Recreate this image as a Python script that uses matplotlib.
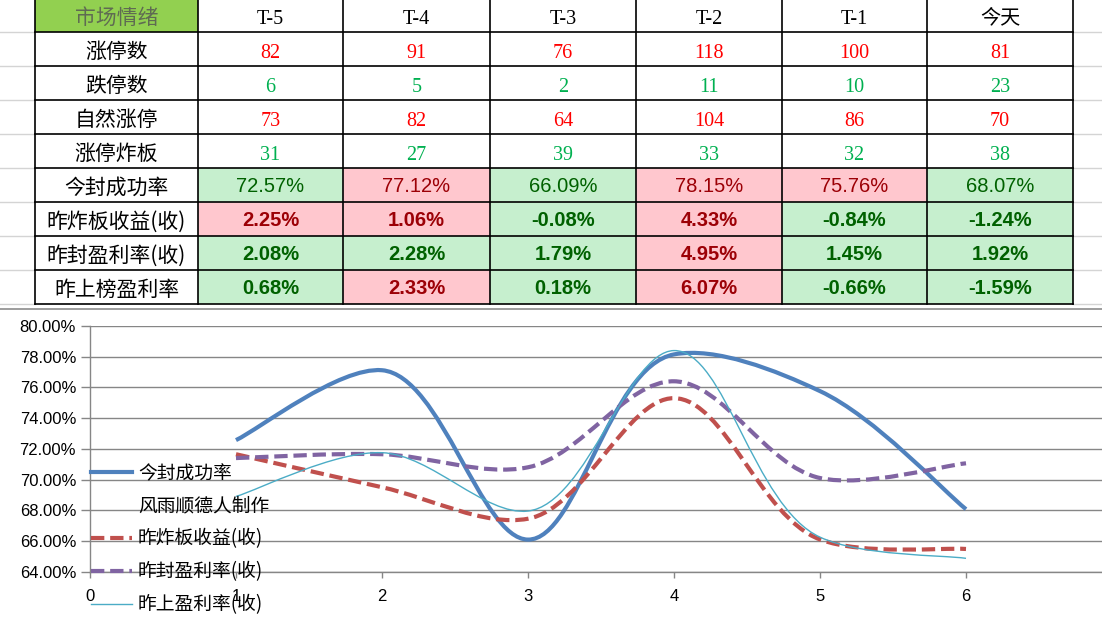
# -*- coding: utf-8 -*-
"""
Market mood table (spreadsheet style) with a smoothed line chart below
"""

import matplotlib
matplotlib.use("Agg")
import matplotlib.pyplot as plt
from math import hypot
from matplotlib.path import Path
from matplotlib.patches import PathPatch, Rectangle
from matplotlib.lines import Line2D
from matplotlib.ticker import FuncFormatter

plt.rcParams['font.family'] = ['Noto Sans CJK SC', 'DejaVu Sans']

#_____________________________________________________
#DATA

corner_label = '市场情绪'
col_heads = ['T-5', 'T-4', 'T-3', 'T-2', 'T-1', '今天']
row_names = ['涨停数', '跌停数', '自然涨停', '涨停炸板',
             '今封成功率', '昨炸板收益(收)', '昨封盈利率(收)', '昨上榜盈利率']

zt_count = [82, 91, 76, 118, 100, 81]
dt_count = [6, 5, 2, 11, 10, 23]
natural_zt = [73, 82, 64, 104, 86, 70]
zt_broken = [31, 27, 39, 33, 32, 38]

seal_rate = [72.57, 77.12, 66.09, 78.15, 75.76, 68.07]
broken_ret = [2.25, 1.06, -0.08, 4.33, -0.84, -1.24]
seal_ret = [2.08, 2.28, 1.79, 4.95, 1.45, 1.92]
board_ret = [0.68, 2.33, 0.18, 6.07, -0.66, -1.59]
# conditional formatting thresholds (above -> red cell, else green cell)
pct_thresholds = [75, 0, 3, 2]

# chart series
days = [1, 2, 3, 4, 5, 6]
chart_seal = [72.57, 77.12, 66.09, 78.15, 75.76, 68.07]
chart_broken = [71.65, 69.5, 67.45, 75.3, 66.1, 65.48]
chart_sealret = [71.4, 71.65, 70.8, 76.4, 70.1, 71.06]
chart_board = [68.9, 71.75, 67.95, 78.4, 66.25, 64.87]
legend_labels = ['今封成功率', '风雨顺德人制作', '昨炸板收益(收)', '昨封盈利率(收)', '昨上盈利率(收)']

#_____________________________________________________
#HELPERS

def smooth_path(xs, ys, sx, sy):
    """
    Excel-like smoothed line: cubic bezier segments whose control points come from a
    chord-length Catmull-Rom spline computed in screen space (sx, sy = pixels per unit).
    """
    px = [x * sx for x in xs]
    py = [y * sy for y in ys]
    n = len(px)

    def tangent(i):
        if i == 0 or i == n - 1:
            j0, j1 = (0, 1) if i == 0 else (n - 2, n - 1)
            d = hypot(px[j1] - px[j0], py[j1] - py[j0])
            return ((px[j1] - px[j0]) / d * 0.5 * 1.0, (py[j1] - py[j0]) / d * 0.5 * 1.0)
        d0 = hypot(px[i] - px[i - 1], py[i] - py[i - 1])
        d1 = hypot(px[i + 1] - px[i], py[i + 1] - py[i])
        w0 = d1 / (d0 + d1)
        w1 = d0 / (d0 + d1)
        tx = (px[i] - px[i - 1]) / d0 * w0 + (px[i + 1] - px[i]) / d1 * w1
        ty = (py[i] - py[i - 1]) / d0 * w0 + (py[i + 1] - py[i]) / d1 * w1
        return tx, ty

    tans = [tangent(i) for i in range(n)]
    verts = [(xs[0], ys[0])]
    codes = [Path.MOVETO]
    for i in range(n - 1):
        d = hypot(px[i + 1] - px[i], py[i + 1] - py[i])
        k0 = 1.0 if 0 < i else 1.0
        c1 = (px[i] + tans[i][0] * d / 3 * k0, py[i] + tans[i][1] * d / 3 * k0)
        c2 = (px[i + 1] - tans[i + 1][0] * d / 3, py[i + 1] - tans[i + 1][1] * d / 3)
        verts += [(c1[0] / sx, c1[1] / sy), (c2[0] / sx, c2[1] / sy), (xs[i + 1], ys[i + 1])]
        codes += [Path.CURVE4] * 3
    return Path(verts, codes)


W, H = 1102, 623
fig = plt.figure(figsize=(W / 100, H / 100), dpi=100)
fig.patch.set_facecolor('white')

#_____________________________________________________
#TABLE (drawn in pixel coordinates)

tab = fig.add_axes([0, 0, 1, 1])
tab.set_xlim(0, W)
tab.set_ylim(H, 0)
tab.axis('off')

col_x = [35, 198, 343, 490, 636, 782, 927, 1073]
row_h = 34
n_rows = 1 + len(row_names)
row_y = [-2] + [32 + row_h * i for i in range(n_rows)]

# faint spreadsheet grid outside the table
for y in row_y[1:]:
    tab.plot([0, col_x[0]], [y, y], color='#d4d4d4', lw=1)
    tab.plot([col_x[-1], W], [y, y], color='#d4d4d4', lw=1)

GREEN_FILL, GREEN_TXT = '#c6efce', '#006100'
RED_FILL, RED_TXT = '#ffc7ce', '#9c0006'

# header
tab.add_patch(Rectangle((col_x[0], row_y[0]), col_x[1] - col_x[0], row_y[1] - row_y[0],
                        facecolor='#92d050', edgecolor='none'))
tab.text((col_x[0] + col_x[1]) / 2, 18, corner_label, ha='center', va='center',
         fontsize=15, color='#5f6b52')
for j, h in enumerate(col_heads):
    tab.text((col_x[j + 1] + col_x[j + 2]) / 2, 19, h, ha='center', va='center',
             fontsize=14.5, color='black', family=['Liberation Serif', 'Noto Sans CJK SC'])

int_rows = [(zt_count, '#ff0000'), (dt_count, '#00b050'),
            (natural_zt, '#ff0000'), (zt_broken, '#00b050')]
pct_rows = [seal_rate, broken_ret, seal_ret, board_ret]

for r, name in enumerate(row_names):
    yc = (row_y[r + 1] + row_y[r + 2]) / 2
    tab.text((col_x[0] + col_x[1]) / 2, yc + 2.5, name, ha='center', va='center',
             fontsize=15, color='black')
    for j in range(6):
        xc = (col_x[j + 1] + col_x[j + 2]) / 2
        if r < 4:
            vals, c = int_rows[r]
            tab.text(xc, yc + 4.5, str(vals[j]), ha='center', va='center', fontsize=14.5,
                     color=c, family='Liberation Serif')
        else:
            k = r - 4
            v = pct_rows[k][j]
            up = v > pct_thresholds[k]
            tab.add_patch(Rectangle((col_x[j + 1], row_y[r + 1]), col_x[j + 2] - col_x[j + 1],
                                    row_h, facecolor=RED_FILL if up else GREEN_FILL,
                                    edgecolor='none'))
            tab.text(xc, yc + 2, '%.2f%%' % v, ha='center', va='center', fontsize=14.5,
                     color=RED_TXT if up else GREEN_TXT, family='Liberation Sans',
                     weight='normal' if k == 0 else 'bold')

# table borders
for x in col_x:
    tab.plot([x, x], [row_y[0], row_y[-1]], color='black', lw=1.2)
for y in row_y[1:]:
    tab.plot([col_x[0], col_x[-1]], [y, y], color='black', lw=1.2)

# chart area background
tab.add_patch(Rectangle((0, 309), W, H - 309, facecolor='white', edgecolor='none'))
tab.plot([0, W], [309, 309], color='#8c8c8c', lw=1.2)

#_____________________________________________________
#CHART

ax = fig.add_axes([90 / W, (H - 571.7) / H, (W - 90) / W, 245.7 / H])
ax.set_facecolor('none')
ax.set_xlim(0, (W - 90) / 146.0)
ax.set_ylim(64, 80)
ax.set_yticks(range(64, 81, 2))
ax.set_xticks(range(0, 7))
ax.yaxis.set_major_formatter(FuncFormatter(lambda v, p: '%.2f%%' % v))
ax.grid(axis='y', color='#868686', lw=1)
ax.set_axisbelow(True)
for s in ['top', 'right']:
    ax.spines[s].set_visible(False)
for s in ['left', 'bottom']:
    ax.spines[s].set_color('#868686')
    ax.spines[s].set_linewidth(1)
ax.tick_params(axis='y', length=6.5, width=1, color='#868686', pad=3.5, labelsize=12)
ax.tick_params(axis='x', length=4.5, width=1, color='#868686', pad=8, labelsize=12)
for lab in ax.get_xticklabels() + ax.get_yticklabels():
    lab.set_family('Liberation Sans')

# pixels per data unit, for screen-space smoothing
sx = ax.bbox.width / (ax.get_xlim()[1] - ax.get_xlim()[0])
sy = ax.bbox.height / (ax.get_ylim()[1] - ax.get_ylim()[0])

dash = (0, (3.2, 1.4))
series = [
    (chart_seal, '#4f81bd', 3.0, '-'),
    (chart_broken, '#c0504d', 3.0, dash),
    (chart_sealret, '#8064a2', 3.0, dash),
    (chart_board, '#4bacc6', 1.0, '-'),
]
for vals, c, lw, ls in series:
    ax.add_patch(PathPatch(smooth_path(days, vals, sx, sy), facecolor='none', edgecolor=c,
                           lw=lw, linestyle=ls, capstyle='butt', joinstyle='round'))

handles = [
    Line2D([], [], color='#4f81bd', lw=3.0),
    Line2D([], [], linestyle='none'),
    Line2D([], [], color='#c0504d', lw=3.0, linestyle=dash),
    Line2D([], [], color='#8064a2', lw=3.0, linestyle=dash),
    Line2D([], [], color='#4bacc6', lw=1.0),
]
leg = ax.legend(handles, legend_labels, loc='upper left',
                bbox_to_anchor=(91 / W, 1 - 463 / H), bbox_transform=fig.transFigure,
                frameon=False, borderpad=0, borderaxespad=0, fontsize=13.5,
                handlelength=2.2, handletextpad=0.3, labelspacing=0.63)

fig.savefig('out.png', dpi=100)
